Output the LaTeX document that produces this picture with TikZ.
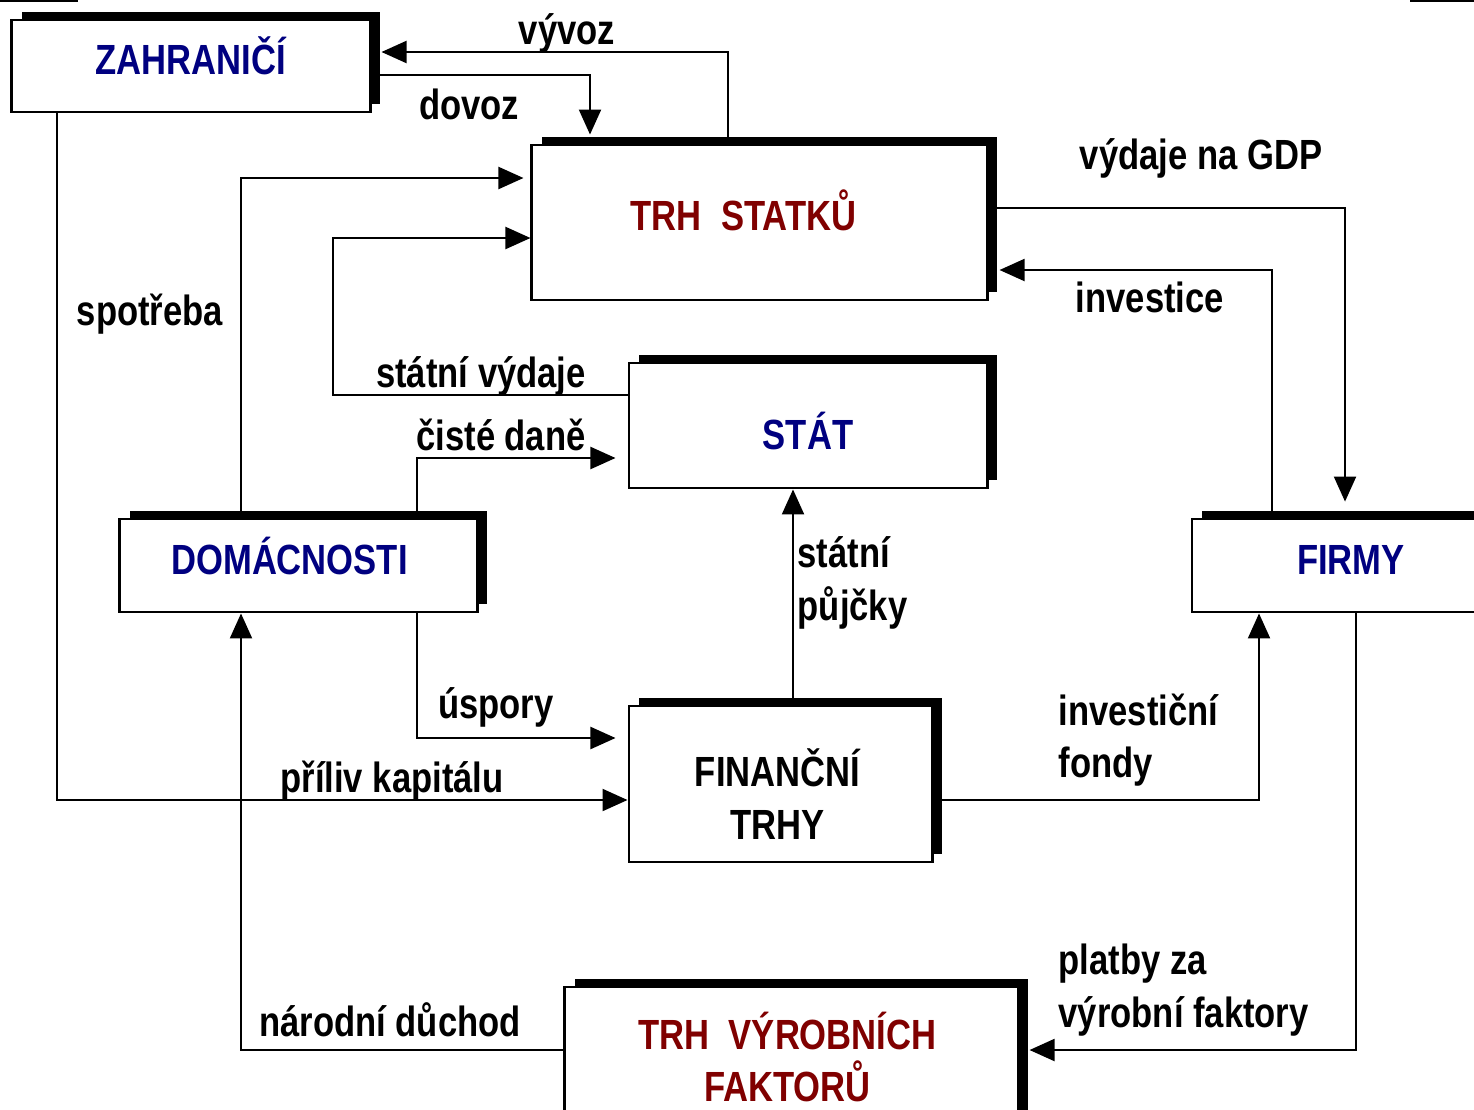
\documentclass[tikz,border=0pt]{standalone}
\usepackage{fontspec}
\setmainfont{Liberation Sans}[FakeStretch=0.82]
\usetikzlibrary{arrows.meta,shadows}
\definecolor{navy}{RGB}{0,0,128}
\definecolor{darkred}{RGB}{128,0,0}

\begin{document}
\begin{tikzpicture}[x=0.01cm,y=-0.01cm,
    font=\bfseries\fontsize{12}{15}\selectfont,
    box/.style={rectangle,draw,line width=0.8pt,fill=white,inner sep=0pt,
        drop shadow={shadow xshift=1mm,shadow yshift=0.8mm,fill=black,opacity=1}},
    arr/.style={line width=0.6pt,-{Triangle[length=2.5mm,width=2.2mm]}},
    lbl/.style={inner sep=0pt},
    title/.style={inner sep=0pt,align=center}]
    \useasboundingbox (0,0) rectangle (1474,1109);
    \fill (0,0) rectangle (78,2);
    \fill (1410,0) rectangle (1474,2);

    \node[box,minimum width=3.58cm,minimum height=0.92cm] (zahranici) at (191,66) {};
    \node[box,minimum width=4.55cm,minimum height=1.55cm] (trhstatku) at (759.5,222.5) {};
    \node[box,minimum width=3.58cm,minimum height=1.25cm] (stat) at (808,425.5) {};
    \node[box,minimum width=3.57cm,minimum height=0.93cm] (domacnosti) at (298.5,565.5) {};
    \node[box,minimum width=2.92cm,minimum height=0.93cm] (firmy) at (1338,565.5) {};
    \node[box,minimum width=3.03cm,minimum height=1.56cm] (financni) at (780.5,784) {};
    \node[box,minimum width=4.53cm,minimum height=1.46cm] (trhvf) at (791.5,1060) {};

    \node[title,text=navy] (zahranicitxt) at ([yshift=1mm]zahranici.center) {ZAHRANIČÍ};
    \node[title,text=darkred] (trhstatkutxt) at ([xshift=-1.6mm,yshift=1.2mm]trhstatku.center) {TRH\ \ STATKŮ};
    \node[title,text=navy] (stattxt) at ([yshift=-0.5mm]stat.center) {STÁT};
    \node[title,text=navy] (domacnostitxt) at ([xshift=-0.9mm,yshift=1mm]domacnosti.center) {DOMÁCNOSTI};
    \node[title,text=navy] (firmytxt) at ([xshift=1.3mm,yshift=0.6mm]firmy.center) {FIRMY};
    \node[title] (financnitxt) at ([xshift=-0.3mm,yshift=-1mm]financni.center) {FINANČNÍ\\TRHY};
    \node[title,text=darkred] (trhvftxt) at ([xshift=-0.4mm,yshift=0.3mm]trhvf.center) {TRH\ \ VÝROBNÍCH\\FAKTORŮ};

    \draw[arr,shorten >=1mm] (trhstatku.north -| 728,0) |- (zahranici.east |- 0,52);
    \draw[arr,shorten >=0.9mm] (zahranici.east |- 0,75) -| (trhstatku.north -| 590,0);
    \draw[arr,shorten >=0.7mm] (domacnosti.north -| 241,0) |- (trhstatku.west |- 0,178);
    \draw[arr] (stat.west |- 0,395) -| (333,238) -- (trhstatku.west |- 0,238);
    \draw[arr,shorten >=1.2mm] (domacnosti.north -| 417,0) |- (stat.west |- 0,458);
    \draw[arr] (financni.north -| 793,0) -- (stat.south -| 793,0);
    \draw[arr,shorten >=1.2mm] (domacnosti.south -| 417,0) |- (financni.west |- 0,738);
    \draw[arr] (zahranici.south -| 57,0) |- (financni.west |- 0,800);
    \draw[arr] (trhvf.west |- 0,1050) -| (domacnosti.south -| 241,0);
    \draw[arr] (financni.east |- 0,800) -| (firmy.south -| 1259,0);
    \draw[arr,shorten >=1mm] (firmy.south -| 1356,0) |- (trhvf.east |- 0,1050);
    \draw[arr,shorten >=1.6mm] (trhstatku.east |- 0,208) -| (firmy.north -| 1345,0);
    \draw[arr,shorten >=1.1mm] (firmy.north -| 1272,0) |- (trhstatku.east |- 0,270);

    \node[lbl] (vyvoz) at (567,33) {vývoz};
    \node[lbl] (dovoz) at (469,104) {dovoz};
    \node[lbl] (vydaje) at (1201,158) {výdaje na GDP};
    \node[lbl] (spotreba) at (150,314) {spotřeba};
    \node[lbl] (investice) at (1150,297) {investice};
    \node[lbl] (statvydaje) at (481,376) {státní výdaje};
    \node[lbl] (dane) at (501,435) {čisté daně};
    \node[lbl,anchor=west,align=left] (pujcky) at (797,583) {státní\\půjčky};
    \node[lbl] (uspory) at (496,707) {úspory};
    \node[lbl] (priliv) at (392,781) {příliv kapitálu};
    \node[lbl,anchor=west,align=left] (fondy) at (1058,740) {investiční\\fondy};
    \node[lbl,anchor=west,align=left] (platby) at (1058,990) {platby za\\výrobní faktory};
    \node[lbl] (duchod) at (390,1020) {národní důchod};
\end{tikzpicture}
\end{document}
